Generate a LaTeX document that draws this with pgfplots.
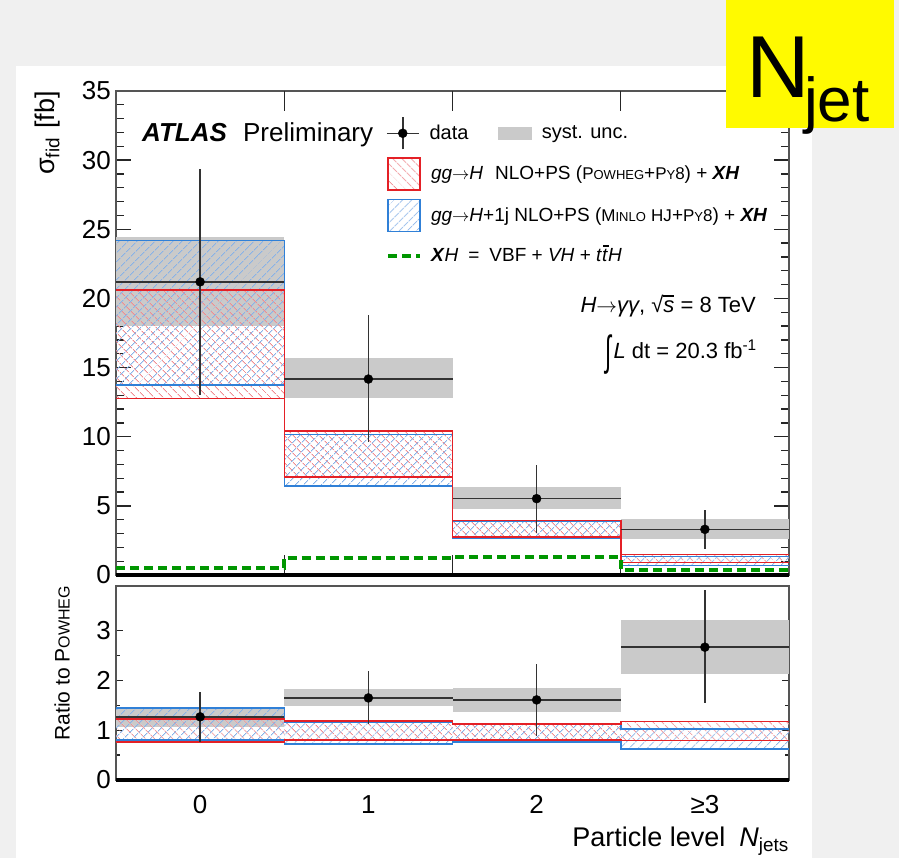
\documentclass[border=0pt]{standalone}
\usepackage{graphicx}
\usepackage{pgfplots}
\pgfplotsset{compat=1.18}
\usetikzlibrary{patterns.meta}
\usepackage{fontspec}
\setmainfont{Liberation Sans}

\definecolor{bgmarble}{RGB}{240,240,240}
\definecolor{atlasred}{RGB}{228,32,38}
\definecolor{atlasblue}{RGB}{48,128,215}
\definecolor{hatchred}{RGB}{240,140,145}
\definecolor{hatchblue}{RGB}{135,178,232}
\definecolor{systgrey}{RGB}{202,202,202}
\definecolor{xhgreen}{RGB}{0,150,0}
\definecolor{axisgrey}{RGB}{85,85,85}
\definecolor{njetyellow}{RGB}{255,250,0}

\tikzset{
  redhatch/.style={pattern={Lines[angle=-45,distance=6.5pt,line width=1pt]}, pattern color=hatchred},
  bluehatch/.style={pattern={Lines[angle=45,distance=6.5pt,line width=1pt]}, pattern color=hatchblue},
}
\pgfplotsset{
  boxleg/.style={legend image code/.code={\draw[##1] (0pt,-16pt) rectangle (32pt,16pt);}},
  greenleg/.style={legend image code/.code={\path[draw=none,fill=none] (0pt,-16pt) rectangle (32pt,16pt);
      \draw[xhgreen, line width=4pt, dash pattern=on 9pt off 5pt] (0pt,0pt) -- (32pt,0pt);}},
  dataleg/.style={legend image code/.code={\path[draw=none,fill=none] (0pt,-16pt) rectangle (32pt,16pt);
      \draw[black!80, line width=1.5pt] (0pt,0pt) -- (32pt,0pt);
      \draw[black!80, line width=1.5pt] (16pt,-16pt) -- (16pt,16pt);
      \fill[black] (16pt,0pt) circle (4.5pt);}},
  systleg/.style={legend image code/.code={\path[draw=none,fill=none] (0pt,-16pt) rectangle (33pt,16pt);
      \fill[systgrey] (0pt,-6pt) rectangle (33pt,6pt);}},
  panel/.style={
    scale only axis, width=673pt, xmin=-0.5, xmax=3.5, clip=false,
    axis line style={draw=axisgrey, line width=1.5pt},
    tick style={draw=black!85, line width=1.3pt},
    tick label style={font=\fontsize{26}{26}\selectfont},
    yticklabel style={inner sep=0pt, xshift=-5pt},
    /pgf/number format/assume math mode=true,
    extra x ticks={0.5,1.5,2.5}, extra x tick labels={},
    extra x tick style={major tick length=20pt},
  },
}
\newcommand{\tbar}{\ooalign{\textit{t}\cr\hidewidth\kern0.12em\rule[0.8em]{0.3em}{0.07em}\hidewidth\cr}}
\newcommand{\bigc}[1]{{\fontsize{17}{17}\selectfont #1}}
\newcommand{\smc}[1]{{\fontsize{13}{13}\selectfont #1}}
\newcommand{\arr}{\ensuremath{\rightarrow}}

\begin{document}
\begin{tikzpicture}[x=1pt,y=1pt]
\path[use as bounding box] (0pt,0pt) rectangle (899pt,-858pt);
\fill[bgmarble] (0pt,0pt) rectangle (899pt,-858pt);
\fill[white] (16pt,-66pt) rectangle (812pt,-858pt);

% ---------------- upper panel ----------------
\begin{axis}[panel, name=upper, at={(116pt,-91pt)}, anchor=north west, height=484pt,
  ymin=0, ymax=35, xtick=\empty,
  ytick={0,5,...,35}, minor y tick num=4,
  major tick length=15pt, minor tick length=8pt,
  ylabel={σ\textsubscript{fid}\hspace{9pt}[fb]},
  ylabel style={at={(rel axis cs:0,1)}, anchor=south east, yshift=56pt, inner sep=0pt, font=\fontsize{27}{27}\selectfont},
  legend cell align=left,
  legend style={at={(0.4012,0.8636)}, anchor=north west, draw=none, fill=none,
    inner sep=0pt, outer sep=0pt, row sep=8pt, column sep=9pt,
    nodes={inner sep=0pt}, font=\fontsize{19}{19}\selectfont},
]
\addlegendimage{boxleg, draw=atlasred, line width=1.5pt, redhatch}
\addlegendentry{\textit{gg}\arr\textit{H}\hspace{12pt}NLO+PS (\bigc{P}\smc{OWHEG}+\bigc{P}\smc{Y}\bigc{8}) + \textbf{\textit{XH}}}
\addlegendimage{boxleg, draw=atlasblue, line width=1.5pt, bluehatch}
\addlegendentry{\textit{gg}\arr\textit{H}+1j NLO+PS (\bigc{M}\smc{INLO} \bigc{HJ}+\bigc{P}\smc{Y}\bigc{8}) + \textbf{\textit{XH}}}
\addlegendimage{greenleg}
\addlegendentry{\textbf{\textit{X}}\textit{H}\hspace{10pt}=\hspace{10pt}VBF + \textit{VH} + \textit{t}\tbar\textit{H}}

% syst. unc. bands
\addplot[fill=systgrey, draw=none] coordinates {(-0.5,18.00) (0.5,18.00) (0.5,24.46) (-0.5,24.46)};
\addplot[fill=systgrey, draw=none] coordinates {(0.5,12.82) (1.5,12.82) (1.5,15.67) (0.5,15.67)};
\addplot[fill=systgrey, draw=none] coordinates {(1.5,4.77) (2.5,4.77) (2.5,6.36) (1.5,6.36)};
\addplot[fill=systgrey, draw=none] coordinates {(2.5,2.60) (3.5,2.60) (3.5,4.03) (2.5,4.03)};
% POWHEG (red) hatched bands
\addplot[draw=none, redhatch] coordinates {(-0.5,12.78) (0.5,12.78) (0.5,20.60) (-0.5,20.60)};
\addplot[draw=none, redhatch] coordinates {(0.5,7.09) (1.5,7.09) (1.5,10.43) (0.5,10.43)};
\addplot[draw=none, redhatch] coordinates {(1.5,2.75) (2.5,2.75) (2.5,3.95) (1.5,3.95)};
\addplot[draw=none, redhatch] coordinates {(2.5,0.89) (3.5,0.89) (3.5,1.50) (2.5,1.50)};
% MINLO (blue) hatched bands
\addplot[draw=none, bluehatch] coordinates {(-0.5,13.74) (0.5,13.74) (0.5,24.20) (-0.5,24.20)};
\addplot[draw=none, bluehatch] coordinates {(0.5,6.43) (1.5,6.43) (1.5,10.17) (0.5,10.17)};
\addplot[draw=none, bluehatch] coordinates {(1.5,2.63) (2.5,2.63) (2.5,3.86) (1.5,3.86)};
\addplot[draw=none, bluehatch] coordinates {(2.5,0.70) (3.5,0.70) (3.5,1.32) (2.5,1.32)};
% outlines
\addplot[const plot, atlasblue, line width=1.5pt] coordinates {(-0.5,24.20) (0.5,10.17) (1.5,3.86) (2.5,1.32) (3.5,1.32)};
\addplot[const plot, atlasblue, line width=1.5pt] coordinates {(-0.5,13.74) (0.5,6.43) (1.5,2.63) (2.5,0.70) (3.5,0.70)};
\addplot[const plot, atlasred, line width=1.5pt] coordinates {(-0.5,20.60) (0.5,10.43) (1.5,3.95) (2.5,1.50) (3.5,1.50)};
\addplot[const plot, atlasred, line width=1.5pt] coordinates {(-0.5,12.78) (0.5,7.09) (1.5,2.75) (2.5,0.89) (3.5,0.89)};
% XH
\addplot[const plot, xhgreen, line width=4pt, dash pattern=on 9pt off 5pt] coordinates {(-0.5,0.50) (0.5,1.25) (1.5,1.28) (2.5,0.38) (3.5,0.38)};
% data
\addplot[only marks, mark=*, mark size=4.5pt, black,
  error bars/.cd, x dir=both, x explicit, y dir=both, y explicit, error mark=none,
  error bar style={line width=1.5pt, black!80}] coordinates {
  (0,21.20) += (0.5,8.15) -= (0.5,8.15)
  (1,14.17) += (0.5,4.60) -= (0.5,4.53)
  (2,5.52) += (0.5,2.46) -= (0.5,2.46)
  (3,3.30) += (0.5,1.42) -= (0.5,1.42)
};
\draw[black, line width=4.5pt] (rel axis cs:0,0) -- (rel axis cs:1,0);
\end{axis}

% ---------------- ratio panel ----------------
\begin{axis}[panel, name=lower, at={(116pt,-586pt)}, anchor=north west, height=194pt,
  ymin=0, ymax=3.9, ytick={0,1,2,3}, minor y tick num=1,
  major tick length=7pt, minor tick length=4pt,
  xtick={0,1,2,3}, xticklabels={0,1,2,≥3},
  xtick style={draw=none},
  xticklabel style={inner sep=0pt, yshift=-15pt},
  ylabel={Ratio to {\fontsize{21}{21}\selectfont P}{\fontsize{16}{16}\selectfont OWHEG}},
  ylabel style={at={(rel axis cs:0,1)}, anchor=south east, yshift=46pt, inner sep=0pt, font=\fontsize{21}{21}\selectfont},
  xlabel={Particle level\hspace{14pt}\textit{N}\textsubscript{jets}},
  xlabel style={at={(rel axis cs:1,0)}, anchor=base east, yshift=-66pt, inner sep=0pt, font=\fontsize{27}{27}\selectfont},
  legend columns=2,
  legend style={at={(0.4012,3.42)}, anchor=north west, draw=none, fill=none,
    inner sep=0pt, outer sep=0pt, column sep=10pt,
    /tikz/every even column/.append style={column sep=30pt},
    nodes={inner sep=0pt}, font=\fontsize{20}{20}\selectfont},
]
\addlegendimage{dataleg}
\addlegendentry{data}
\addlegendimage{systleg}
\addlegendentry{syst. unc.}

\addplot[fill=systgrey, draw=none] coordinates {(-0.5,1.07) (0.5,1.07) (0.5,1.47) (-0.5,1.47)};
\addplot[fill=systgrey, draw=none] coordinates {(0.5,1.48) (1.5,1.48) (1.5,1.83) (0.5,1.83)};
\addplot[fill=systgrey, draw=none] coordinates {(1.5,1.37) (2.5,1.37) (2.5,1.85) (1.5,1.85)};
\addplot[fill=systgrey, draw=none] coordinates {(2.5,2.14) (3.5,2.14) (3.5,3.22) (2.5,3.22)};
\addplot[draw=none, redhatch] coordinates {(-0.5,0.76) (0.5,0.76) (0.5,1.23) (-0.5,1.23)};
\addplot[draw=none, redhatch] coordinates {(0.5,0.80) (1.5,0.80) (1.5,1.19) (0.5,1.19)};
\addplot[draw=none, redhatch] coordinates {(1.5,0.80) (2.5,0.80) (2.5,1.13) (1.5,1.13)};
\addplot[draw=none, redhatch] coordinates {(2.5,0.79) (3.5,0.79) (3.5,1.18) (2.5,1.18)};
\addplot[draw=none, bluehatch] coordinates {(-0.5,0.80) (0.5,0.80) (0.5,1.45) (-0.5,1.45)};
\addplot[draw=none, bluehatch] coordinates {(0.5,0.72) (1.5,0.72) (1.5,1.17) (0.5,1.17)};
\addplot[draw=none, bluehatch] coordinates {(1.5,0.76) (2.5,0.76) (2.5,1.12) (1.5,1.12)};
\addplot[draw=none, bluehatch] coordinates {(2.5,0.62) (3.5,0.62) (3.5,1.03) (2.5,1.03)};
\addplot[const plot, atlasblue, line width=1.5pt] coordinates {(-0.5,1.45) (0.5,1.17) (1.5,1.12) (2.5,1.03) (3.5,1.03)};
\addplot[const plot, atlasblue, line width=1.5pt] coordinates {(-0.5,0.80) (0.5,0.72) (1.5,0.76) (2.5,0.62) (3.5,0.62)};
\addplot[const plot, atlasred, line width=1.5pt] coordinates {(-0.5,1.23) (0.5,1.19) (1.5,1.13) (2.5,1.18) (3.5,1.18)};
\addplot[const plot, atlasred, line width=1.5pt] coordinates {(-0.5,0.76) (0.5,0.80) (1.5,0.80) (2.5,0.79) (3.5,0.79)};
\addplot[only marks, mark=*, mark size=4.5pt, black,
  error bars/.cd, x dir=both, x explicit, y dir=both, y explicit, error mark=none,
  error bar style={line width=1.5pt, black!80}] coordinates {
  (0,1.27) += (0.5,0.49) -= (0.5,0.51)
  (1,1.65) += (0.5,0.54) -= (0.5,0.53)
  (2,1.61) += (0.5,0.72) -= (0.5,0.72)
  (3,2.67) += (0.5,1.15) -= (0.5,1.13)
};
\draw[black, line width=4.5pt] (rel axis cs:0,0) -- (rel axis cs:1,0);
\end{axis}

% ---------------- annotations ----------------
\node[anchor=base west, inner sep=0pt, font=\fontsize{26}{26}\selectfont] at (142pt,-142pt)
  {\textbf{\textit{ATLAS}}\hspace{9pt} Preliminary};
\node[anchor=base east, inner sep=0pt, font=\fontsize{22}{22}\selectfont] at (756pt,-313pt)
  {\textit{H}\arr\textit{γγ}, √\makebox[0pt][l]{\rule[0.74em]{0.5em}{0.06em}}\textit{s} = 8 TeV};
\node[anchor=base east, inner sep=0pt, font=\fontsize{22}{22}\selectfont] at (757pt,-358pt)
  {\raisebox{-0.32em}{\scalebox{1}[1.9]{∫}}\hspace{2pt}\textit{L} dt = 20.3 fb\textsuperscript{-1}};

% N_jet box
\fill[njetyellow] (726pt,0pt) rectangle (894pt,-128pt);
\node[anchor=base west, inner sep=0pt, font=\fontsize{88}{88}\selectfont] at (746pt,-98pt) {N};
\node[anchor=base west, inner sep=0pt, font=\fontsize{62}{62}\selectfont] at (804pt,-122pt) {jet};
\end{tikzpicture}
\end{document}
